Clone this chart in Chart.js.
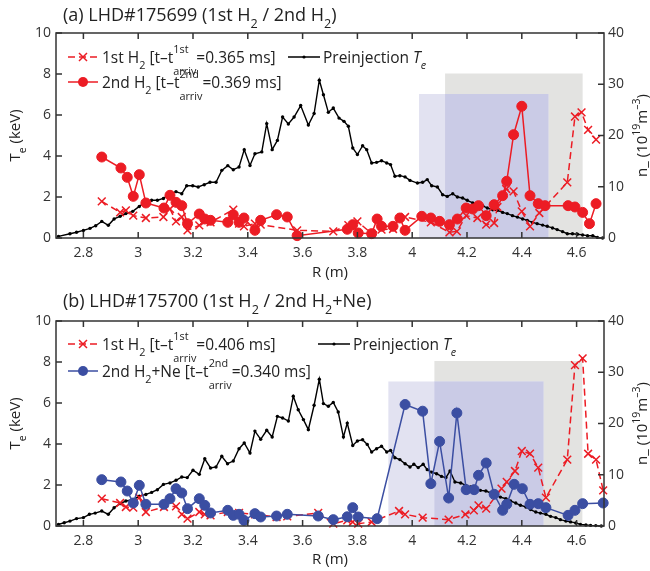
<!DOCTYPE html>
<html>
<head>
<meta charset="utf-8">
<script src="https://cdn.jsdelivr.net/npm/chart.js@4"></script>
<style>
  body { margin: 0; background: #fff; }
  canvas { display: block; }
</style>
</head>
<body>
<canvas id="chartA" width="650" height="285"></canvas>
<canvas id="chartB" width="650" height="286"></canvas>
<script>
// ── Shared axis ticks ─────────────────────────────────────────────────────────
const X_TICKS = [2.8, 3, 3.2, 3.4, 3.6, 3.8, 4, 4.2, 4.4, 4.6];
const TE_TICKS_STEP = 2;
const NE_TICKS_STEP = 10;

// ── Panel (a) LHD#175699 ──────────────────────────────────────────────────────
const preR_A = [2.709,2.751,2.775,2.80,2.824,2.845,2.867,2.891,2.912,2.934,2.955,2.98,3.004,3.025,3.049,3.07,3.092,3.116,3.138,3.159,3.177,3.199,3.219,3.241,3.262,3.284,3.305,3.327,3.347,3.368,3.387,3.408,3.426,3.451,3.469,3.489,3.508,3.527,3.548,3.569,3.593,3.621,3.642,3.661,3.676,3.694,3.712,3.733,3.751,3.767,3.783,3.80,3.819,3.834,3.852,3.870,3.888,3.907,3.921,3.937,3.955,3.974,3.992,4.019,4.038,4.055,4.071,4.092,4.111,4.128,4.148,4.165,4.184,4.201,4.221,4.238,4.257,4.274,4.294,4.311,4.330,4.347,4.366,4.384,4.403,4.42,4.439,4.456,4.476,4.493,4.512,4.529,4.549,4.566,4.585,4.603,4.622,4.64,4.659,4.676,4.695];
const preTe_A = [0.08,0.21,0.28,0.37,0.47,0.60,0.81,0.62,0.93,1.06,1.19,1.30,1.54,1.74,1.84,1.84,1.93,2.15,2.26,2.16,2.55,2.55,2.49,2.60,2.72,2.72,3.30,3.53,3.33,3.46,4.31,3.54,4.11,4.20,5.58,4.31,4.76,5.90,5.56,5.90,6.46,5.51,6.07,7.70,6.99,6.13,6.34,5.85,5.69,5.45,4.39,4.07,4.50,4.31,3.66,3.69,3.77,3.66,3.58,3.01,3.04,2.98,2.81,2.68,2.72,2.85,2.55,2.49,2.11,2.03,2.16,2.0,1.95,1.84,1.71,1.63,1.58,1.46,1.38,1.35,1.25,1.19,1.09,1.02,0.93,0.86,0.76,0.70,0.63,0.57,0.49,0.41,0.31,0.21,0.21,0.18,0.15,0.11,0.11,0.03,0.0];

const h1R_A = [2.867,2.934,2.955,2.982,3.028,3.092,3.116,3.138,3.159,3.18,3.223,3.243,3.264,3.347,3.368,3.386,3.426,3.447,3.58,3.712,3.767,3.80,3.852,3.888,3.93,3.974,4.068,4.136,4.163,4.197,4.238,4.27,4.299,4.311,4.343,4.37,4.4,4.43,4.464,4.566,4.594,4.618,4.642,4.671];
const h1N_A = [7.15,5.0,5.4,4.36,3.9,4.1,5.66,3.25,4.1,1.5,2.47,3.25,3.06,5.53,2.8,2.28,2.8,2.6,1.5,1.3,2.5,3.25,0.85,1.63,1.76,4.1,3.06,1.1,1.3,4.36,3.9,2.6,2.93,6.05,9.56,9.1,5.2,2.28,4.88,10.86,23.7,24.5,21.1,19.2];

const h2R_A = [2.867,2.937,2.96,2.982,3.004,3.028,3.094,3.116,3.138,3.159,3.18,3.223,3.243,3.264,3.327,3.347,3.368,3.386,3.426,3.447,3.505,3.544,3.58,3.763,3.783,3.803,3.852,3.872,3.888,3.93,3.955,3.974,4.035,4.068,4.1,4.136,4.165,4.197,4.221,4.242,4.27,4.299,4.33,4.345,4.37,4.4,4.43,4.46,4.485,4.569,4.594,4.622,4.647,4.671];
const h2N_A = [15.8,13.66,11.84,8.13,12.36,6.83,5.85,8.33,6.96,6.31,2.80,4.68,3.71,3.45,3.06,4.55,3.06,3.90,1.50,3.45,4.55,4.10,0.46,1.7,2.6,0.98,0.85,3.7,2.28,2.28,3.9,1.5,4.23,3.90,3.25,2.6,3.7,5.85,5.66,6.31,4.36,6.5,8.26,11.06,20.16,25.7,8.26,6.7,6.31,6.31,6.05,5.0,2.8,6.7];

// shaded ranges: [R from, R to, n top]
const grayBoxA = [4.12, 4.622, 32.1];
const blueBoxA = [4.025, 4.497, 28.1];

// ── Panel (b) LHD#175700 ──────────────────────────────────────────────────────
const preR_B = [2.709,2.73,2.751,2.775,2.80,2.822,2.843,2.867,2.891,2.912,2.934,2.955,2.98,3.004,3.028,3.049,3.07,3.092,3.116,3.138,3.159,3.179,3.2,3.223,3.243,3.264,3.284,3.305,3.326,3.347,3.368,3.387,3.408,3.426,3.447,3.469,3.489,3.508,3.527,3.548,3.566,3.584,3.603,3.621,3.642,3.661,3.676,3.694,3.712,3.73,3.749,3.763,3.783,3.80,3.819,3.836,3.852,3.870,3.888,3.907,3.921,3.937,3.955,3.974,3.992,4.006,4.022,4.04,4.055,4.071,4.089,4.107,4.123,4.138,4.156,4.177,4.196,4.213,4.232,4.249,4.269,4.286,4.305,4.322,4.342,4.359,4.378,4.395,4.415,4.432,4.451,4.468,4.488,4.505,4.524,4.541,4.561,4.578,4.597,4.614,4.634,4.651,4.67,4.69];
const preTe_B = [0.08,0.16,0.24,0.36,0.41,0.57,0.63,0.73,0.57,0.89,1.09,1.22,1.28,1.45,1.54,1.64,1.77,2.03,2.10,2.23,2.39,2.36,2.72,2.52,3.28,2.83,2.88,3.40,3.04,3.17,3.77,4.05,3.56,4.63,4.23,4.67,4.34,5.35,5.27,5.12,6.33,5.67,5.19,4.70,5.89,7.16,5.97,5.84,6.03,5.56,4.34,5.02,3.93,4.15,4.21,3.98,3.61,3.77,3.89,3.61,3.69,3.33,3.24,3.04,2.88,3.01,2.85,3.01,2.75,2.63,2.55,2.42,2.36,2.68,2.15,2.10,1.98,1.90,1.82,1.74,1.71,1.61,1.50,1.41,1.33,1.22,1.12,1.01,0.93,0.80,0.68,0.63,0.57,0.47,0.41,0.31,0.24,0.20,0.15,0.08,0.05,0.03,0.02,0.0];

const h1R_B = [2.867,2.934,2.955,2.982,3.004,3.028,3.094,3.138,3.159,3.18,3.223,3.243,3.264,3.327,3.368,3.426,3.505,3.544,3.657,3.712,3.763,3.783,3.803,3.852,3.952,3.974,4.038,4.133,4.194,4.225,4.242,4.27,4.326,4.345,4.375,4.4,4.43,4.46,4.488,4.566,4.594,4.622,4.642,4.671,4.697];
const h1N_B = [5.33,4.49,3.71,3.58,5.53,2.73,3.71,3.84,2.28,1.43,2.73,2.28,2.08,2.73,2.54,2.28,1.76,1.89,2.54,0.46,1.1,0.78,0.46,0.78,2.93,2.28,1.63,1.24,2.28,3.06,4.03,3.38,7.28,8.59,10.73,14.63,14.11,11.38,5.53,12.94,31.4,32.7,14.1,12.94,6.96];

const neR_B = [2.867,2.937,2.96,2.982,3.004,3.028,3.094,3.116,3.138,3.159,3.18,3.223,3.243,3.264,3.327,3.347,3.368,3.386,3.426,3.447,3.505,3.544,3.657,3.712,3.763,3.783,3.803,3.872,3.974,4.038,4.068,4.1,4.133,4.163,4.197,4.226,4.242,4.27,4.299,4.33,4.345,4.372,4.402,4.43,4.46,4.488,4.569,4.594,4.622,4.697];
const neN_B = [9.04,8.59,6.83,4.49,7.93,4.23,4.23,5.33,7.28,6.44,3.38,5.33,4.03,2.54,3.06,2.08,2.28,1.1,2.41,1.76,1.95,2.28,1.95,1.24,1.8,3.58,1.76,1.43,23.7,22.4,8.26,16.5,5.46,22.05,7.09,7.09,9.89,12.29,6.18,3.06,4.23,8.13,7.28,4.23,4.36,3.58,2.08,3.06,4.36,4.49];

const grayBoxB = [4.081, 4.621, 32.2];
const blueBoxB = [3.913, 4.479, 28.2];

// ── Style helpers ─────────────────────────────────────────────────────────────
const FONT = '"Open Sans", "DejaVu Sans", sans-serif';
const RED = "#ec1c24";
const BLUE = "#3b4ea2";
const AXIS = "#333333";
const GRAY_FILL = "#e3e3e1";
const BLUE_FILL = "#e2e2f1";
const BOTH_FILL = "#cacbe6";
const TITLE_SIZE = 18;
const LEGEND_SIZE = 15.5;

function xy(rs, vs) {
  return rs.map((r, i) => ({ x: r, y: vs[i] }));
}

function setFont(ctx, size, italic) {
  ctx.font = `${italic ? "italic " : ""}${size}px ${FONT}`;
}

// rich text: plain strings, {it}, {sub}, {sup}, or stacked {sup, sub}
function partWidth(ctx, p, size) {
  const s = size * 0.7;
  if (typeof p === "string") { setFont(ctx, size); return ctx.measureText(p).width; }
  if (p.it !== undefined) { setFont(ctx, size, true); return ctx.measureText(p.it).width; }
  if (p.sup !== undefined && p.sub !== undefined) {
    setFont(ctx, s);
    return Math.max(ctx.measureText(p.sup).width, ctx.measureText(p.sub).width);
  }
  const t = p.sub !== undefined ? p.sub : p.sup;
  setFont(ctx, s, p.subIt);
  return ctx.measureText(t).width;
}

function richWidth(ctx, parts, size) {
  return parts.reduce((w, p) => w + partWidth(ctx, p, size), 0);
}

function drawRich(ctx, parts, x, y, size, color) {
  ctx.fillStyle = color;
  ctx.textAlign = "left";
  ctx.textBaseline = "alphabetic";
  const s = size * 0.7;
  let cx = x;
  for (const p of parts) {
    const w = partWidth(ctx, p, size);
    if (typeof p === "string") {
      setFont(ctx, size); ctx.fillText(p, cx, y);
    } else if (p.it !== undefined) {
      setFont(ctx, size, true); ctx.fillText(p.it, cx, y);
    } else if (p.sup !== undefined && p.sub !== undefined) {
      setFont(ctx, s);
      ctx.fillText(p.sup, cx, y - size * 0.62);
      ctx.fillText(p.sub, cx, y + size * 0.75);
    } else if (p.sub !== undefined) {
      setFont(ctx, s, p.subIt); ctx.fillText(p.sub, cx, y + size * 0.37);
    } else {
      setFont(ctx, s); ctx.fillText(p.sup, cx, y - size * 0.45);
    }
    cx += w;
  }
}

function legendSymbol(ctx, kind, color, x0, x1, y) {
  ctx.save();
  ctx.strokeStyle = color;
  ctx.fillStyle = color;
  ctx.lineWidth = 1.5;
  ctx.setLineDash(kind === "cross" ? [7, 4] : []);
  ctx.beginPath(); ctx.moveTo(x0, y); ctx.lineTo(x1, y); ctx.stroke();
  ctx.setLineDash([]);
  const cx = (x0 + x1) / 2;
  if (kind === "cross") {
    const d = 4;
    ctx.beginPath();
    ctx.moveTo(cx - d, y - d); ctx.lineTo(cx + d, y + d);
    ctx.moveTo(cx - d, y + d); ctx.lineTo(cx + d, y - d);
    ctx.stroke();
  } else {
    const r = kind === "dot" ? 1.6 : 5;
    ctx.beginPath(); ctx.arc(cx, y, r, 0, Math.PI * 2); ctx.fill();
  }
  ctx.restore();
}

// ── Per-panel decoration plugin ───────────────────────────────────────────────
function panelPlugin(cfg) {
  return {
    id: "panel-" + cfg.id,
    beforeDatasetsDraw(chart) {
      const { ctx } = chart;
      const xs = chart.scales.x, ys = chart.scales.y1;
      const rect = (x0, x1, top, fill) => {
        const px0 = xs.getPixelForValue(x0), px1 = xs.getPixelForValue(x1);
        const py0 = ys.getPixelForValue(top), py1 = ys.getPixelForValue(0);
        ctx.fillStyle = fill;
        ctx.fillRect(px0, py0, px1 - px0, py1 - py0);
      };
      const g = cfg.grayBox, b = cfg.blueBox;
      ctx.save();
      rect(g[0], g[1], g[2], GRAY_FILL);
      rect(b[0], b[1], b[2], BLUE_FILL);
      rect(Math.max(g[0], b[0]), Math.min(g[1], b[1]), Math.min(g[2], b[2]), BOTH_FILL);
      ctx.restore();
    },
    afterDraw(chart) {
      const { ctx, chartArea: a } = chart;
      const xs = chart.scales.x, yl = chart.scales.y, yr = chart.scales.y1;
      ctx.save();
      // frame + inward ticks
      ctx.strokeStyle = AXIS;
      ctx.lineWidth = 1.5;
      ctx.strokeRect(a.left, a.top, a.right - a.left, a.bottom - a.top);
      const tl = 6;
      ctx.beginPath();
      X_TICKS.forEach(v => {
        const px = xs.getPixelForValue(v);
        ctx.moveTo(px, a.bottom); ctx.lineTo(px, a.bottom - tl);
        ctx.moveTo(px, a.top); ctx.lineTo(px, a.top + tl);
      });
      for (let v = 0; v <= 10; v += TE_TICKS_STEP) {
        const py = yl.getPixelForValue(v);
        ctx.moveTo(a.left, py); ctx.lineTo(a.left + tl, py);
      }
      for (let v = 0; v <= 40; v += NE_TICKS_STEP) {
        const py = yr.getPixelForValue(v);
        ctx.moveTo(a.right, py); ctx.lineTo(a.right - tl, py);
      }
      ctx.stroke();

      // title
      drawRich(ctx, cfg.title, 63, cfg.titleY, TITLE_SIZE, "#222");

      // legend
      const L = cfg.legend;
      legendSymbol(ctx, "cross", RED, 68, 98, L.row1);
      drawRich(ctx, L.text1, 102, L.row1 + 6, LEGEND_SIZE, "#222");
      legendSymbol(ctx, "circle", L.color2, 68, 98, L.row2);
      drawRich(ctx, L.text2, 102, L.row2 + 6, LEGEND_SIZE, "#222");
      legendSymbol(ctx, "dot", "#000", L.preX, L.preX + 32, L.row1);
      drawRich(ctx, ["Preinjection ", { it: "T" }, { sub: "e", subIt: true }], L.preX + 35, L.row1 + 6, LEGEND_SIZE, "#222");

      // axis titles
      const xl = ["R (m)"];
      drawRich(ctx, xl, (a.left + a.right) / 2 - richWidth(ctx, xl, 15) / 2, cfg.xLabelY, 15, "#222");

      const midY = (a.top + a.bottom) / 2;
      const tlab = ["T", { sub: "e" }, " (keV)"];
      ctx.save();
      ctx.translate(20, midY);
      ctx.rotate(-Math.PI / 2);
      drawRich(ctx, tlab, -richWidth(ctx, tlab, 15) / 2, 0, 15, "#222");
      ctx.restore();

      const nlab = ["n_ (10", { sup: "19" }, "m", { sup: "–3" }, ")"];
      ctx.save();
      ctx.translate(647, midY);
      ctx.rotate(-Math.PI / 2);
      drawRich(ctx, nlab, -richWidth(ctx, nlab, 15) / 2, 0, 15, "#222");
      ctx.restore();
      ctx.restore();
    },
  };
}

// ── Chart builder ─────────────────────────────────────────────────────────────
function tickFont() {
  return { family: FONT, size: 14 };
}

function buildPanel(cfg) {
  const canvas = document.getElementById(cfg.id);
  const H = canvas.height;
  return new Chart(canvas, {
    type: "scatter",
    data: { datasets: cfg.datasets },
    options: {
      responsive: false,
      animation: false,
      devicePixelRatio: 1,
      layout: { padding: { top: cfg.top, left: 0, right: 0, bottom: 0 } },
      plugins: { legend: { display: false }, tooltip: { enabled: false } },
      scales: {
        x: {
          type: "linear", min: 2.7, max: 4.7,
          afterBuildTicks: s => { s.ticks = X_TICKS.map(v => ({ value: v })); },
          afterFit: s => { s.height = H - cfg.bottom; },
          grid: { display: false, drawTicks: false },
          border: { display: false },
          ticks: { font: tickFont(), color: AXIS, padding: 7, maxRotation: 0, autoSkip: false,
                   callback: v => String(+v.toFixed(1)) },
        },
        y: {
          position: "left", min: 0, max: 10,
          afterFit: s => { s.width = 56; },
          grid: { display: false, drawTicks: false },
          border: { display: false },
          ticks: { font: tickFont(), color: AXIS, padding: 5, stepSize: TE_TICKS_STEP },
        },
        y1: {
          position: "right", min: 0, max: 40,
          afterFit: s => { s.width = 46; },
          grid: { display: false, drawTicks: false },
          border: { display: false },
          ticks: { font: tickFont(), color: AXIS, padding: 4, stepSize: NE_TICKS_STEP },
        },
      },
    },
    plugins: [panelPlugin(cfg)],
  });
}

function preSet(rs, vs) {
  return {
    data: xy(rs, vs), yAxisID: "y", showLine: true, order: 3, clip: false,
    borderColor: "#000", borderWidth: 1.4, pointRadius: 1.7,
    pointBackgroundColor: "#000", pointBorderColor: "#000", pointBorderWidth: 0,
  };
}

function crossSet(rs, vs) {
  return {
    data: xy(rs, vs), yAxisID: "y1", showLine: true, order: 2, clip: false,
    borderColor: RED, borderWidth: 1.5, borderDash: [7, 4],
    pointStyle: "crossRot", pointRadius: 5.5, pointBorderColor: RED, pointBorderWidth: 1.5,
  };
}

function circleSet(rs, vs, color) {
  return {
    data: xy(rs, vs), yAxisID: "y1", showLine: true, order: 1, clip: false,
    borderColor: color, borderWidth: 1.5, pointStyle: "circle", pointRadius: 5,
    pointBackgroundColor: color, pointBorderColor: color, pointBorderWidth: 1,
  };
}

buildPanel({
  id: "chartA", top: 33, bottom: 238,
  title: ["(a) LHD#175699 (1st H", { sub: "2" }, " / 2nd H", { sub: "2" }, ")"],
  titleY: 21, xLabelY: 277,
  grayBox: grayBoxA, blueBox: blueBoxA,
  legend: {
    row1: 57, row2: 82, preX: 288, color2: RED,
    text1: ["1st H", { sub: "2" }, " [t–t", { sup: "1st", sub: "arriv" }, "=0.365 ms]"],
    text2: ["2nd H", { sub: "2" }, " [t–t", { sup: "2nd", sub: "arriv" }, "=0.369 ms]"],
  },
  datasets: [preSet(preR_A, preTe_A), crossSet(h1R_A, h1N_A), circleSet(h2R_A, h2N_A, RED)],
});

buildPanel({
  id: "chartB", top: 36, bottom: 241,
  title: ["(b) LHD#175700 (1st H", { sub: "2" }, " / 2nd H", { sub: "2" }, "+Ne)"],
  titleY: 22, xLabelY: 279,
  grayBox: grayBoxB, blueBox: blueBoxB,
  legend: {
    row1: 59, row2: 86, preX: 318, color2: BLUE,
    text1: ["1st H", { sub: "2" }, " [t–t", { sup: "1st", sub: "arriv" }, "=0.406 ms]"],
    text2: ["2nd H", { sub: "2" }, "+Ne [t–t", { sup: "2nd", sub: "arriv" }, "=0.340 ms]"],
  },
  datasets: [preSet(preR_B, preTe_B), crossSet(h1R_B, h1N_B), circleSet(neR_B, neN_B, BLUE)],
});
</script>
</body>
</html>
